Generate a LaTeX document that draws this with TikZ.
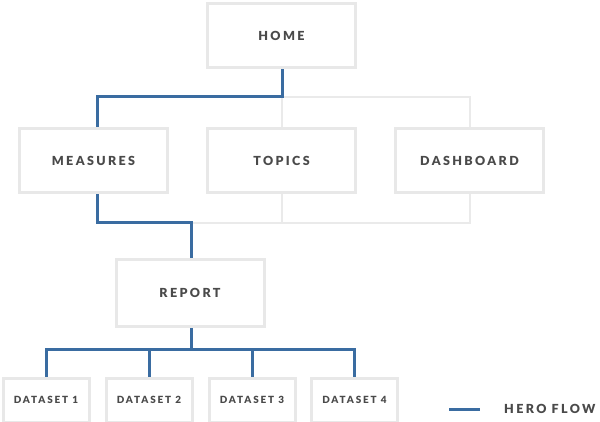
\documentclass[tikz,border=0pt]{standalone}
\usepackage{fontspec}
\newfontfamily\lbl{Lato Black}[LetterSpace=19]
\usetikzlibrary{backgrounds}
\definecolor{boxgray}{HTML}{E8E8E8}
\definecolor{linegray}{HTML}{EAEAEA}
\definecolor{hero}{HTML}{3A6CA1}
\definecolor{txt}{HTML}{4A4A4A}
\begin{document}
\begin{tikzpicture}[x=1pt,y=-1pt,
  box/.style={draw=boxgray,line width=3pt,fill=white,minimum width=148pt,minimum height=64pt,inner sep=0pt,
    font=\lbl\fontsize{12.5}{14}\selectfont,text=txt},
  dsbox/.style={box,minimum width=86pt,minimum height=44pt,font=\lbl\fontsize{9.9}{11}\selectfont},
  heroline/.style={draw=hero,line width=3pt},
  greyline/.style={draw=linegray,line width=2pt},
  legendtext/.style={font=\lbl\fontsize{12.5}{14}\selectfont,text=txt,inner sep=0pt,anchor=west}]
\useasboundingbox (0,0) rectangle (600,422);
\clip (0,0) rectangle (600,422);
\begin{scope}[on background layer]
\fill[white] (0,0) rectangle (600,422);
\end{scope}
% nodes
\node[box] (home) at (281.5,35.5) {HOME};
\node[box] (measures) at (93.5,160.5) {MEASURES};
\node[box] (topics) at (281.5,160.5) {TOPICS};
\node[box] (dashboard) at (469.5,160.5) {DASHBOARD};
\node[box,minimum height=67pt] (report) at (190,293) {REPORT};
\node[dsbox] (ds1) at (46,400) {DATASET 1};
\node[dsbox] (ds2) at (149,400) {DATASET 2};
\node[dsbox] (ds3) at (252,400) {DATASET 3};
\node[dsbox] (ds4) at (354.5,400) {DATASET 4};
% junctions
\coordinate (j1) at (282,97);
\coordinate (j0) at (97.5,97);
\coordinate (j5) at (97.5,223);
\coordinate (j2) at (282,223);
\coordinate (j3) at (191.5,223);
\coordinate (j4) at (191.5,349);
\begin{scope}[on background layer]
\draw[greyline] (j1) -- (topics.north -| j1);
\draw[greyline] (j1) -| (dashboard.north);
\draw[greyline] (topics.south -| j2) -- (j2);
\draw[greyline] (dashboard.south) |- (j3);
\draw[heroline] (home.south -| j1) -- (j1) -- (j0) -- (measures.north -| j0);
\draw[heroline] (measures.south -| j5) -- (j5) -- (j3) -- (report.north -| j3);
\draw[heroline] (report.south -| j4) -- (j4);
\draw[heroline] (ds1.north) |- (j4) -| (ds4.north);
\draw[heroline] (ds2.north) -- (ds2.north |- j4);
\draw[heroline] (ds3.north) -- (ds3.north |- j4);
\end{scope}
% legend
\coordinate (l1) at (449,409);
\coordinate (l2) at (480,409);
\draw[heroline] (l1) -- (l2);
\node[legendtext] (lg) at (504,409) {HERO FLOW};
\end{tikzpicture}
\end{document}
